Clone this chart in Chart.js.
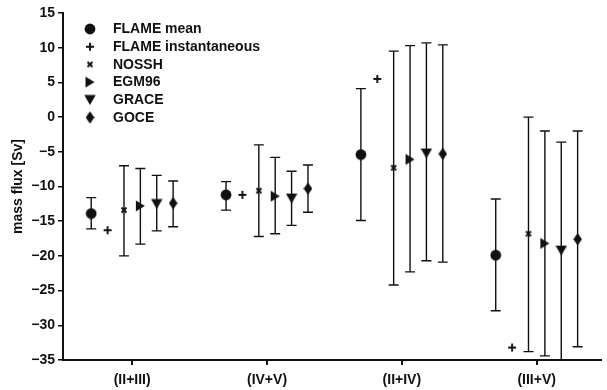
<!DOCTYPE html>
<html><head><meta charset="utf-8">
<script src="https://cdn.jsdelivr.net/npm/chart.js@4.4.0/dist/chart.umd.min.js"></script>
<style>html,body{margin:0;padding:0;background:#fff}canvas{display:block}</style>
</head><body>
<canvas id="c" width="607" height="390"></canvas>
<script>
// ---- data ----
const categories = ['(II+III)', '(IV+V)', '(II+IV)', '(III+V)'];
const seriesNames = ['FLAME mean', 'FLAME instantaneous', 'NOSSH', 'EGM96', 'GRACE', 'GOCE'];

const flameMean    = [-13.9, -11.2, -5.4, -19.9];
const flameMeanLo  = [-16.1, -13.4, -14.9, -27.9];
const flameMeanHi  = [-11.6, -9.3, 4.1, -11.8];

const flameInst    = [-16.3, -11.2, 5.5, -33.2];

const nossh        = [-13.4, -10.6, -7.3, -16.8];
const nosshLo      = [-20.0, -17.2, -24.2, -33.8];
const nosshHi      = [-7.0, -4.0, 9.5, 0.0];

const egm96        = [-12.8, -11.4, -6.1, -18.2];
const egm96Lo      = [-18.3, -16.8, -22.3, -34.4];
const egm96Hi      = [-7.4, -5.8, 10.3, -2.0];

const grace        = [-12.5, -11.7, -5.2, -19.2];
const graceLo      = [-16.4, -15.6, -20.7, -37.0];
const graceHi      = [-8.4, -7.8, 10.7, -3.6];

const goce         = [-12.4, -10.3, -5.3, -17.6];
const goceLo       = [-15.8, -13.7, -20.9, -33.1];
const goceHi       = [-9.2, -6.9, 10.4, -2.0];

const yMin = -35, yMax = 15, yStep = 5;
const yTitle = 'mass flux [Sv]';

// ---- marker images ----
const INK = '#111';
function mk(w, h, draw) {
  const c = document.createElement('canvas');
  c.width = w; c.height = h;
  const g = c.getContext('2d');
  g.fillStyle = INK; g.strokeStyle = INK;
  draw(g);
  return c;
}
const markers = [
  mk(12, 12, g => { g.beginPath(); g.arc(6, 6, 5.4, 0, Math.PI * 2); g.fill(); }),
  mk(10, 10, g => { g.lineWidth = 1.9; g.beginPath(); g.moveTo(1, 5); g.lineTo(9, 5); g.moveTo(5, 1); g.lineTo(5, 9); g.stroke(); }),
  mk(8, 8, g => { g.lineWidth = 1.9; g.beginPath(); g.moveTo(1.5, 1.5); g.lineTo(6.5, 6.5); g.moveTo(6.5, 1.5); g.lineTo(1.5, 6.5); g.stroke(); }),
  mk(11, 12, g => { g.beginPath(); g.moveTo(1, 0.5); g.lineTo(10, 6); g.lineTo(1, 11.5); g.closePath(); g.fill(); }),
  mk(12, 11, g => { g.beginPath(); g.moveTo(0.3, 0.8); g.lineTo(11.7, 0.8); g.lineTo(6, 10.7); g.closePath(); g.fill(); }),
  mk(9, 13, g => { g.beginPath(); g.moveTo(4.5, 0.3); g.lineTo(8.8, 6.5); g.lineTo(4.5, 12.7); g.lineTo(0.2, 6.5); g.closePath(); g.fill(); })
];

const values = [flameMean, flameInst, nossh, egm96, grace, goce];
const lows   = [flameMeanLo, null, nosshLo, egm96Lo, graceLo, goceLo];
const highs  = [flameMeanHi, null, nosshHi, egm96Hi, graceHi, goceHi];
const dodge = 0.1215;

const datasets = seriesNames.map((name, k) => ({
  label: name,
  data: categories.map((c, i) => ({ x: i + (k - 2.5) * dodge, y: values[k][i] })),
  errLo: lows[k],
  errHi: highs[k],
  pointStyle: markers[k],
  backgroundColor: INK,
  borderColor: INK,
  showLine: false
}));

const FONT = "'Liberation Sans', Arial, Helvetica, sans-serif";

const errorBars = {
  id: 'errorBars',
  beforeDatasetsDraw(chart) {
    const { ctx, chartArea, scales } = chart;
    ctx.save();
    ctx.beginPath();
    ctx.rect(chartArea.left, chartArea.top - 2, chartArea.right - chartArea.left, chartArea.bottom - chartArea.top + 2);
    ctx.clip();
    ctx.strokeStyle = INK;
    ctx.lineWidth = 1.4;
    chart.data.datasets.forEach(ds => {
      if (!ds.errLo) return;
      ds.data.forEach((p, i) => {
        const x = scales.x.getPixelForValue(p.x);
        const yl = scales.y.getPixelForValue(ds.errLo[i]);
        const yh = scales.y.getPixelForValue(ds.errHi[i]);
        ctx.beginPath();
        ctx.moveTo(x, yh); ctx.lineTo(x, yl);
        ctx.moveTo(x - 5, yh); ctx.lineTo(x + 5, yh);
        ctx.moveTo(x - 5, yl); ctx.lineTo(x + 5, yl);
        ctx.stroke();
      });
    });
    ctx.restore();
  }
};

const insetLegend = {
  id: 'insetLegend',
  afterDraw(chart) {
    const { ctx } = chart;
    ctx.save();
    ctx.font = 'bold 14px ' + FONT;
    ctx.fillStyle = INK;
    ctx.textBaseline = 'middle';
    chart.data.datasets.forEach((ds, k) => {
      const y = 29 + k * 17.7;
      const img = ds.pointStyle;
      ctx.drawImage(img, 90 - img.width / 2, y - img.height / 2);
      ctx.fillText(ds.label, 113, y + 0.5);
    });
    ctx.restore();
  }
};

new Chart(document.getElementById('c'), {
  type: 'scatter',
  data: { datasets },
  plugins: [errorBars, insetLegend],
  options: {
    responsive: false,
    animation: false,
    events: [],
    devicePixelRatio: 1,
    layout: { padding: { top: 13, left: 0, right: 0, bottom: 0 } },
    plugins: { legend: { display: false }, tooltip: { enabled: false } },
    elements: { point: { radius: 5 } },
    scales: {
      x: {
        type: 'linear',
        min: -0.513, max: 3.477,
        afterBuildTicks(scale) { scale.ticks = categories.map((c, i) => ({ value: i })); },
        afterFit(scale) { scale.height = 30; },
        grid: { display: true, drawOnChartArea: false, drawTicks: true, tickLength: 5, color: INK, lineWidth: 2 },
        border: { display: true, color: INK, width: 2 },
        ticks: {
          autoSkip: false, maxRotation: 0, padding: 7,
          color: INK,
          font: { family: FONT, size: 14, weight: 'bold' },
          callback: v => categories[v]
        }
      },
      y: {
        min: yMin, max: yMax,
        afterBuildTicks(scale) {
          const t = [];
          for (let v = yMin; v <= yMax; v += yStep) t.push({ value: v });
          scale.ticks = t;
        },
        afterFit(scale) { scale.width = 63; },
        grid: { display: true, drawOnChartArea: false, drawTicks: true, tickLength: 5, color: INK, lineWidth: 1.5 },
        border: { display: true, color: INK, width: 2 },
        title: {
          display: true, text: yTitle, color: INK,
          font: { family: FONT, size: 14, weight: 'bold' },
          padding: { top: 10, bottom: 0 }
        },
        ticks: {
          padding: 3, color: INK,
          font: { family: FONT, size: 14, weight: 'bold' },
          callback: v => (v < 0 ? '\u2212' + Math.abs(v) : String(v))
        }
      }
    }
  }
});
</script>
</body></html>
